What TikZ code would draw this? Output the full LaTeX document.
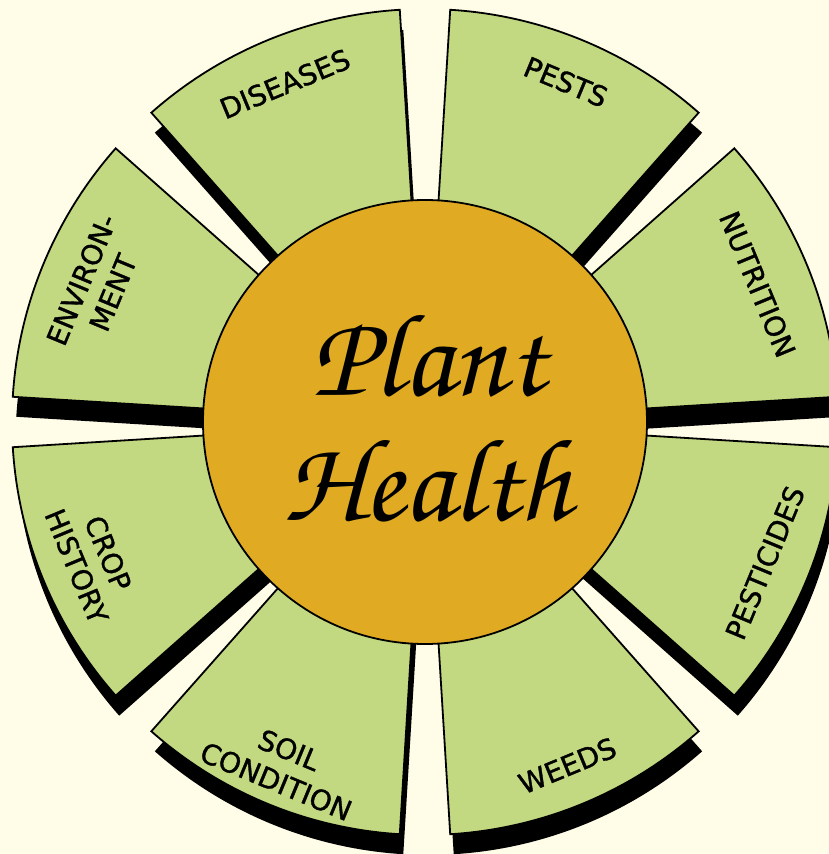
\documentclass[tikz,border=0pt]{standalone}
\usepackage{fontspec}
\setsansfont[FakeBold=1.2]{DejaVu Sans}
\newfontfamily\handfont{TeX Gyre Chorus}
\definecolor{paper}{RGB}{255,253,231}
\definecolor{leaf}{RGB}{194,217,130}
\definecolor{core}{RGB}{224,171,34}

\begin{document}
\begin{tikzpicture}[
  every node/.style={font=\sffamily\fontsize{28}{34}\selectfont},
  petal/.style={fill=leaf, draw=black, line width=1.8pt},
  petalshadow/.style={fill=black},
  hub/.style={circle, fill=core, draw=black, line width=1.8pt, minimum size=444pt, inner sep=0pt},
  petaltext/.style={align=center, inner sep=0pt},
  script/.style={font=\handfont\fontsize{118}{118}\selectfont, anchor=base}
]
  % page
  \fill[paper] (-425pt,-432pt) rectangle (404pt,422pt);
  \useasboundingbox (-425pt,-432pt) rectangle (404pt,422pt);

  % shadows first, petals on top
  \foreach \c in {22.5,67.5,...,337.5}
    \fill[petalshadow, shift={(3.5pt,-20pt)}] (\c-19:150pt) -- (\c-19:413pt)
      arc[start angle=\c-19, end angle=\c+19, radius=413pt] -- (\c+19:150pt) -- cycle;
  \foreach \c in {22.5,67.5,...,337.5}
    \draw[petal] (\c-19:150pt) -- (\c-19:413pt)
      arc[start angle=\c-19, end angle=\c+19, radius=413pt] -- (\c+19:150pt) -- cycle;

  \node[hub] (hub) at (0,0) {};

  \foreach \c/\r/\rot/\txt [count=\i] in {
      112.5/366pt/22.5/DISEASES, 67.5/368pt/-22.5/PESTS, 22.5/360pt/-67.5/NUTRITION,
      -22.5/368pt/67.5/PESTICIDES, -67.5/372pt/22.5/WEEDS, -112.5/372pt/-22.5/{SOIL\\CONDITION},
      -157.5/360pt/-67.5/{CROP\\HISTORY}, 157.5/355pt/67.5/{ENVIRON-\\MENT}}
    \node[petaltext, rotate=\rot] (petal\i) at (\c:\r) {\txt};

  \node[script] (plant) at (3pt,27pt) {Plant};
  \node[script] (health) at (2pt,-98pt) {Health};
\end{tikzpicture}
\end{document}
